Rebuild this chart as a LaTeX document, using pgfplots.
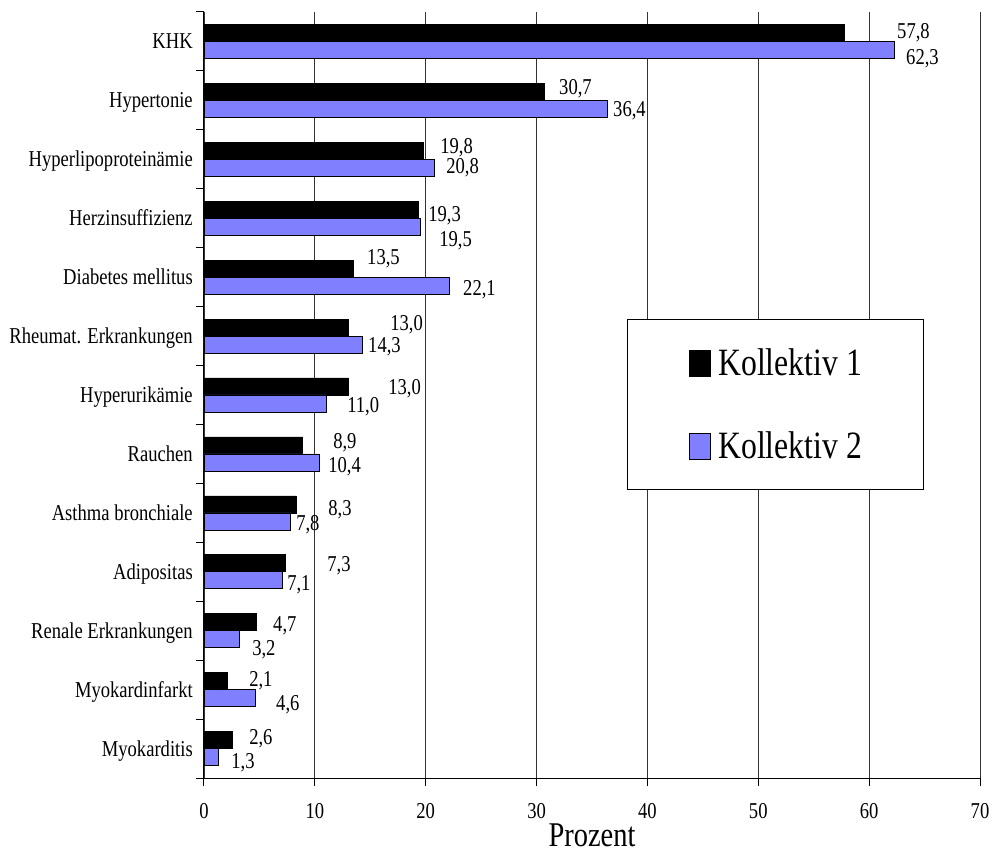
\documentclass[border=0pt]{standalone}
\usepackage{fontspec}
\setmainfont{Liberation Serif}[FakeStretch=0.82]
\usepackage{pgfplots}
\pgfplotsset{compat=1.18}
\usepackage{pgfplotstable}
\usetikzlibrary{calc}
\definecolor{kbl}{RGB}{128,128,255}

\pgfplotstableread{
y k1 k2
12 57.8 62.3
11 30.7 36.4
10 19.8 20.8
9 19.3 19.5
8 13.5 22.1
7 13.0 14.3
6 13.0 11.0
5 8.9 10.4
4 8.3 7.8
3 7.3 7.1
2 4.7 3.2
1 2.1 4.6
0 2.6 1.3
}\bars

\pgfplotstableread{
lx ly val
62.51 12.178 57.8
63.32 11.737 62.3
32.02 11.228 30.7
36.89 10.854 36.4
21.29 10.226 19.8
21.83 9.887 20.8
20.21 9.072 19.3
21.20 8.648 19.5
14.70 8.343 13.5
23.36 7.816 22.1
16.78 7.222 13.0
14.79 6.849 14.3
16.60 6.136 13.0
12.90 5.831 11.0
11.64 5.220 8.9
11.19 4.812 10.4
11.19 4.099 8.3
8.30 3.828 7.8
11.10 3.132 7.3
7.49 2.810 7.1
6.22 2.114 4.7
4.33 1.723 3.2
4.06 1.197 2.1
6.49 0.773 4.6
4.06 0.196 2.6
2.44 -0.195 1.3
}\labels

\begin{document}
\begin{tikzpicture}
\begin{axis}[
  name=ax, scale only axis, width=582pt, height=574.5pt,
  xmin=0, xmax=70, ymin=-0.5, ymax=12.5,
  axis lines*=left,
  axis line style={black, line width=0.75pt},
  xtick={0,10,...,70},
  xmajorgrids, grid style={black!80, line width=0.6pt},
  tick align=outside, major tick length=6pt, minor tick length=6pt,
  tick style={black, line width=0.75pt},
  ytick={0,...,12},
  yticklabels={Myokarditis, Myokardinfarkt, Renale Erkrankungen, Adipositas, Asthma bronchiale, Rauchen, Hyperurikämie, Rheumat. Erkrankungen, Diabetes mellitus, Herzinsuffizienz, Hyperlipoproteinämie, Hypertonie, KHK},
  major y tick style={draw=none},
  minor ytick={-0.5,0.5,...,12.5},
  /pgf/number format/assume math mode=true,
  ticklabel style={font=\fontsize{17}{20}\selectfont},
  xticklabel style={anchor=north, inner sep=0pt, yshift=-12.75pt},
  yticklabel style={anchor=base east, inner sep=0pt, xshift=-2.25pt, yshift=-5.6pt},
  xlabel={Prozent},
  xlabel style={font=\fontsize{26}{30}\selectfont, at={(rel axis cs:0.5,0)}, anchor=base, yshift=-51pt},
  legend style={at={(rel axis cs:0.545,0.599)}, anchor=north west, draw=black, line width=0.75pt,
    inner xsep=46pt, inner ysep=22pt, row sep=40.5pt, font=\fontsize{29}{34}\selectfont,
    nodes={inner sep=0pt},
    /tikz/every odd column/.append style={column sep=6pt}},
  legend cell align=left,
  legend image code/.code={\draw[#1, line width=0.5pt] (0pt,-9.5pt) rectangle (15.75pt,9.5pt);},
]
\addplot[xbar, bar width=12.75pt, bar shift=6.375pt, fill=black, draw=black, line width=0.5pt] table[x=k1,y=y]{\bars};
\addlegendentry{Kollektiv 1}
\addplot[xbar, bar width=12.75pt, bar shift=-6.375pt, fill=kbl, draw=black, line width=0.5pt] table[x=k2,y=y]{\bars};
\addlegendentry{Kollektiv 2}
\addplot[draw=none, forget plot, point meta=explicit,
  nodes near coords={\pgfmathprintnumber[fixed,fixed zerofill,precision=1,use comma,assume math mode=true]{\pgfplotspointmeta}},
  nodes near coords style={anchor=base west, inner sep=0pt, yshift=-6pt, font=\fontsize{17}{20}\selectfont, black}]
  table[x=lx,y=ly,meta=val]{\labels};
\end{axis}
\pgfresetboundingbox
\path[use as bounding box] ($(ax.south west)+(-153pt,-55.5pt)$) rectangle ($(ax.south west)+(592.5pt,583.5pt)$);
\end{tikzpicture}
\end{document}
